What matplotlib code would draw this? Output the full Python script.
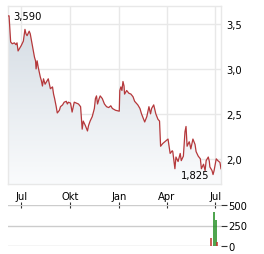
import numpy as np
import pandas as pd
import matplotlib
matplotlib.use("Agg")
import matplotlib.pyplot as plt
import matplotlib.dates as mdates
from matplotlib.patches import Polygon

# Kursverlauf (Schlusskurse)
dates = ["2023-06-06", "2023-06-08", "2023-06-11", "2023-06-14", "2023-06-18",
         "2023-06-21", "2023-06-23", "2023-06-25", "2023-06-29", "2023-07-01",
         "2023-07-05", "2023-07-08", "2023-07-10", "2023-07-12", "2023-07-16",
         "2023-07-18", "2023-07-22", "2023-07-26", "2023-07-28", "2023-07-29",
         "2023-07-31", "2023-08-02", "2023-08-06", "2023-08-08", "2023-08-10",
         "2023-08-12", "2023-08-15", "2023-08-19", "2023-08-21", "2023-08-25",
         "2023-08-29", "2023-08-31", "2023-09-02", "2023-09-05", "2023-09-07",
         "2023-09-11", "2023-09-13", "2023-09-17", "2023-09-20", "2023-09-24",
         "2023-09-26", "2023-09-28", "2023-10-02", "2023-10-05", "2023-10-09",
         "2023-10-13", "2023-10-17", "2023-10-21", "2023-10-24", "2023-10-26",
         "2023-10-30", "2023-11-03", "2023-11-05", "2023-11-08", "2023-11-12",
         "2023-11-16", "2023-11-18", "2023-11-20", "2023-11-22", "2023-11-25",
         "2023-11-27", "2023-12-01", "2023-12-05", "2023-12-09", "2023-12-13",
         "2023-12-17", "2023-12-20", "2023-12-26", "2024-01-02", "2024-01-03",
         "2024-01-05", "2024-01-07", "2024-01-09", "2024-01-11", "2024-01-12",
         "2024-01-16", "2024-01-20", "2024-01-24", "2024-01-28", "2024-01-31",
         "2024-02-06", "2024-02-10", "2024-02-13", "2024-02-17", "2024-02-19",
         "2024-02-23", "2024-02-27", "2024-03-01", "2024-03-03", "2024-03-07",
         "2024-03-11", "2024-03-15", "2024-03-18", "2024-03-20", "2024-03-24",
         "2024-03-28", "2024-04-01", "2024-04-03", "2024-04-07", "2024-04-11",
         "2024-04-12", "2024-04-16", "2024-04-18", "2024-04-22", "2024-04-26",
         "2024-04-28", "2024-05-02", "2024-05-05", "2024-05-07", "2024-05-09",
         "2024-05-13", "2024-05-14", "2024-05-16", "2024-05-20", "2024-05-24",
         "2024-05-26", "2024-05-30", "2024-06-03", "2024-06-05", "2024-06-09",
         "2024-06-12", "2024-06-14", "2024-06-18", "2024-06-20", "2024-06-21",
         "2024-06-25", "2024-06-27", "2024-06-29", "2024-07-03", "2024-07-06",
         "2024-07-10", "2024-07-12"]
prices = [3.59, 3.59, 3.30, 3.28, 3.29, 3.27, 3.29, 3.20, 3.24, 3.26,
          3.31, 3.44, 3.39, 3.37, 3.42, 3.39, 3.26, 3.13, 3.09, 3.00,
          3.09, 3.02, 2.91, 2.87, 2.81, 2.89, 2.83, 2.87, 2.89, 2.78,
          2.80, 2.72, 2.67, 2.58, 2.51, 2.54, 2.58, 2.60, 2.63, 2.64,
          2.61, 2.63, 2.62, 2.52, 2.63, 2.62, 2.61, 2.58, 2.33, 2.42,
          2.37, 2.31, 2.37, 2.42, 2.47, 2.56, 2.67, 2.70, 2.61, 2.67,
          2.70, 2.67, 2.61, 2.58, 2.57, 2.59, 2.56, 2.54, 2.53, 2.76,
          2.80, 2.76, 2.86, 2.81, 2.72, 2.76, 2.73, 2.72, 2.69, 2.64,
          2.60, 2.56, 2.50, 2.44, 2.41, 2.47, 2.58, 2.50, 2.56, 2.60,
          2.50, 2.44, 2.42, 2.14, 2.17, 2.19, 2.21, 2.22, 2.06, 2.09,
          2.08, 1.89, 2.02, 1.97, 2.06, 1.98, 2.03, 2.30, 2.36, 2.14,
          2.19, 2.17, 2.11, 2.22, 2.16, 2.08, 2.03, 2.00, 1.89, 1.94,
          1.87, 1.98, 2.02, 1.97, 1.91, 1.87, 1.825, 1.87, 2.00, 1.98,
          1.96, 1.89]

# Umsatz
vol_dates = ["2024-06-23", "2024-06-28", "2024-07-03", "2024-07-05"]
vol_values = [100, 410, 317, 50]
vol_up = [False, True, True, False]

month_ticks = ["2023-07-01", "2023-10-01", "2024-01-01", "2024-04-01", "2024-07-01"]
month_labels = ["Jul", "Okt", "Jan", "Apr", "Jul"]
price_ticks = [2.0, 2.5, 3.0, 3.5]
vol_ticks = [0, 250, 500]

x = pd.to_datetime(dates)
y = np.array(prices)
xv = pd.to_datetime(vol_dates)
xt = pd.to_datetime(month_ticks)

line_col = "#b5383b"
grid_col = "#e8e8e8"
fs = 7.2

fig = plt.figure(figsize=(2.64, 2.55), dpi=100)
ax = fig.add_axes([8/264, 1 - 185/255, 213/264, 178/255])
axv = fig.add_axes([8/264, 1 - 247/255, 213/264, 41/255])

xmin, xmax = x[0], x[-1]
ymin, ymax = 1.72, 3.70

# Verlauf unter der Kurve
grad = np.linspace(1, 0, 256).reshape(-1, 1)
top_c = np.array([0.83, 0.86, 0.89])
bot_c = np.array([0.98, 0.985, 0.99])
img = top_c * grad[..., None] + bot_c * (1 - grad[..., None])
im = ax.imshow(img, extent=[mdates.date2num(xmin), mdates.date2num(xmax), ymin, y.max()],
               aspect="auto", origin="upper", zorder=1)
xn = mdates.date2num(x)
poly = np.column_stack([np.r_[xn[0], xn, xn[-1]], np.r_[ymin, y, ymin]])
clip = Polygon(poly, closed=True, transform=ax.transData, facecolor="none", edgecolor="none")
ax.add_patch(clip)
im.set_clip_path(clip)

ax.plot(x, y, color=line_col, lw=0.9, zorder=3)

ax.set_xlim(xmin, xmax)
ax.set_ylim(ymin, ymax)
ax.set_xticks(xt)
ax.set_xticklabels(month_labels, fontsize=fs)
ax.set_yticks(price_ticks)
ax.set_yticklabels([f"{t:.1f}".replace(".", ",") for t in price_ticks], fontsize=fs)
ax.yaxis.tick_right()
ax.tick_params(length=0, pad=4)
ax.tick_params(axis="x", pad=5)
ax.grid(True, color=grid_col, lw=1)
ax.set_axisbelow(True)
for s in ax.spines.values():
    s.set_color(grid_col)
    s.set_linewidth(1)

imax = int(np.argmax(y))
imin = int(np.argmin(y))
ax.annotate("3,590", (x[imax], y[imax]), xytext=(4, 0), textcoords="offset points",
            fontsize=fs, va="center", ha="left", zorder=4)
ax.annotate("1,825", (x[imin], y[imin]), xytext=(-3, 0), textcoords="offset points",
            fontsize=fs, va="center", ha="right", zorder=4)

# Umsatzbalken
for d, v, up in zip(xv, vol_values, vol_up):
    axv.vlines(d, 0, v, color="#1a8a1a" if up else "#c0302a", lw=1.1)
axv.set_xlim(xmin, xmax)
axv.set_ylim(0, 500)
axv.set_yticks(vol_ticks)
axv.set_yticklabels([str(t) for t in vol_ticks], fontsize=fs)
axv.yaxis.tick_right()
axv.tick_params(axis="y", length=4, width=0.8, pad=1, color="#333333")
axv.set_xticks(xt)
axv.xaxis.tick_top()
axv.tick_params(axis="x", direction="inout", length=4, width=0.8, color="#333333",
                labeltop=False, labelbottom=False)
axv.grid(True, axis="y", color="#cccccc", lw=1)
axv.grid(False, axis="x")
for s in axv.spines.values():
    s.set_visible(False)
axv.patch.set_alpha(0)

fig.savefig("out.png", dpi=100)
